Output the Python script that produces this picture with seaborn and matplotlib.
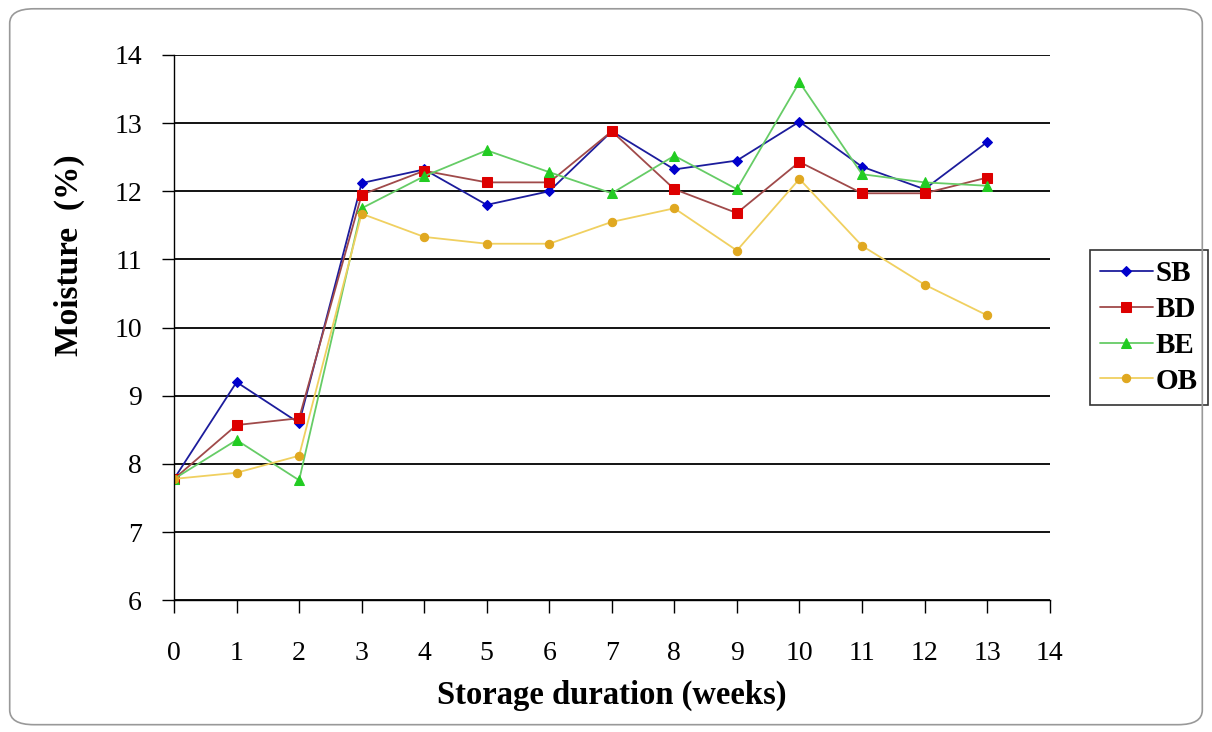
import numpy as np
import pandas as pd
import seaborn as sns
import matplotlib.pyplot as plt
from matplotlib.patches import FancyBboxPatch

weeks = list(range(14))
sb = [7.78, 9.20, 8.60, 12.12, 12.32, 11.80, 12.00, 12.88, 12.32, 12.45, 13.02, 12.36, 12.03, 12.72]
bd = [7.78, 8.57, 8.67, 11.95, 12.30, 12.13, 12.13, 12.88, 12.03, 11.68, 12.43, 11.97, 11.97, 12.20]
be = [7.78, 8.35, 7.76, 11.75, 12.22, 12.60, 12.28, 11.97, 12.52, 12.03, 13.60, 12.25, 12.13, 12.08]
ob = [7.78, 7.87, 8.12, 11.67, 11.33, 11.23, 11.23, 11.55, 11.75, 11.13, 12.18, 11.20, 10.63, 10.18]
series_names = ["SB", "BD", "BE", "OB"]
x_ticks = list(range(15))
y_ticks = list(range(6, 15))

sns.set_theme(style="white")
plt.rcParams['font.family'] = ['Liberation Serif', 'DejaVu Serif']
plt.rcParams['text.color'] = 'black'
plt.rcParams['axes.labelcolor'] = 'black'
plt.rcParams['xtick.color'] = 'black'
plt.rcParams['ytick.color'] = 'black'

fig = plt.figure(figsize=(12.12, 7.32), dpi=100)
ax = fig.add_axes([0.1436, 0.18, 0.7224, 0.745])

styles = {
    "SB": dict(color="#1c1c9c", marker="D", mfc="#0000cc", mec="#0000cc", ms=5),
    "BD": dict(color="#a04a4a", marker="s", mfc="#dd0000", mec="#dd0000", ms=7),
    "BE": dict(color="#66cc66", marker="^", mfc="#22cc22", mec="#22cc22", ms=7),
    "OB": dict(color="#f0d060", marker="o", mfc="#e0a820", mec="#e0a820", ms=6),
}
data = {"SB": sb, "BD": bd, "BE": be, "OB": ob}
for name in series_names:
    st = styles[name]
    sns.lineplot(x=weeks, y=data[name], ax=ax, color=st["color"], marker=st["marker"],
                 markerfacecolor=st["mfc"], markeredgecolor=st["mec"], markersize=st["ms"],
                 linewidth=1.3, label=name)

ax.set_xlim(0, 14)
ax.set_ylim(6, 14)
ax.set_xticks(x_ticks)
ax.set_yticks(y_ticks)
ax.yaxis.grid(True, color="black", linewidth=1.3)
ax.set_axisbelow(True)
for s in ["top", "right"]:
    ax.spines[s].set_visible(False)
for s in ["left", "bottom"]:
    ax.spines[s].set_color("black")
    ax.spines[s].set_linewidth(1.0)
ax.tick_params(axis="both", which="both", direction="out", length=9, width=1, color="black",
               labelsize=20, bottom=True, left=True)
ax.tick_params(axis="x", pad=20)
ax.tick_params(axis="y", pad=14)
ax.set_xlabel("Storage duration (weeks)", fontsize=23.5, fontweight="bold", labelpad=10)
ax.set_ylabel("Moisture  (%)", fontsize=24, fontweight="bold")
ax.yaxis.set_label_coords(-0.102, 0.633)

leg = ax.legend(loc="center left", bbox_to_anchor=(1.046, 0.50), frameon=True, fancybox=False,
                edgecolor="black", fontsize=21, handlelength=1.8, handletextpad=0.1,
                borderpad=0.35, labelspacing=0.3, borderaxespad=0)
for t in leg.get_texts():
    t.set_fontweight("bold")
leg.get_frame().set_linewidth(1.2)

border = FancyBboxPatch((0.008, 0.01), 0.984, 0.978, boxstyle="round,pad=0,rounding_size=0.02",
                        transform=fig.transFigure, facecolor="none", edgecolor="#999999",
                        linewidth=1.2)
fig.patches.append(border)

fig.savefig("out.png", dpi=100)
